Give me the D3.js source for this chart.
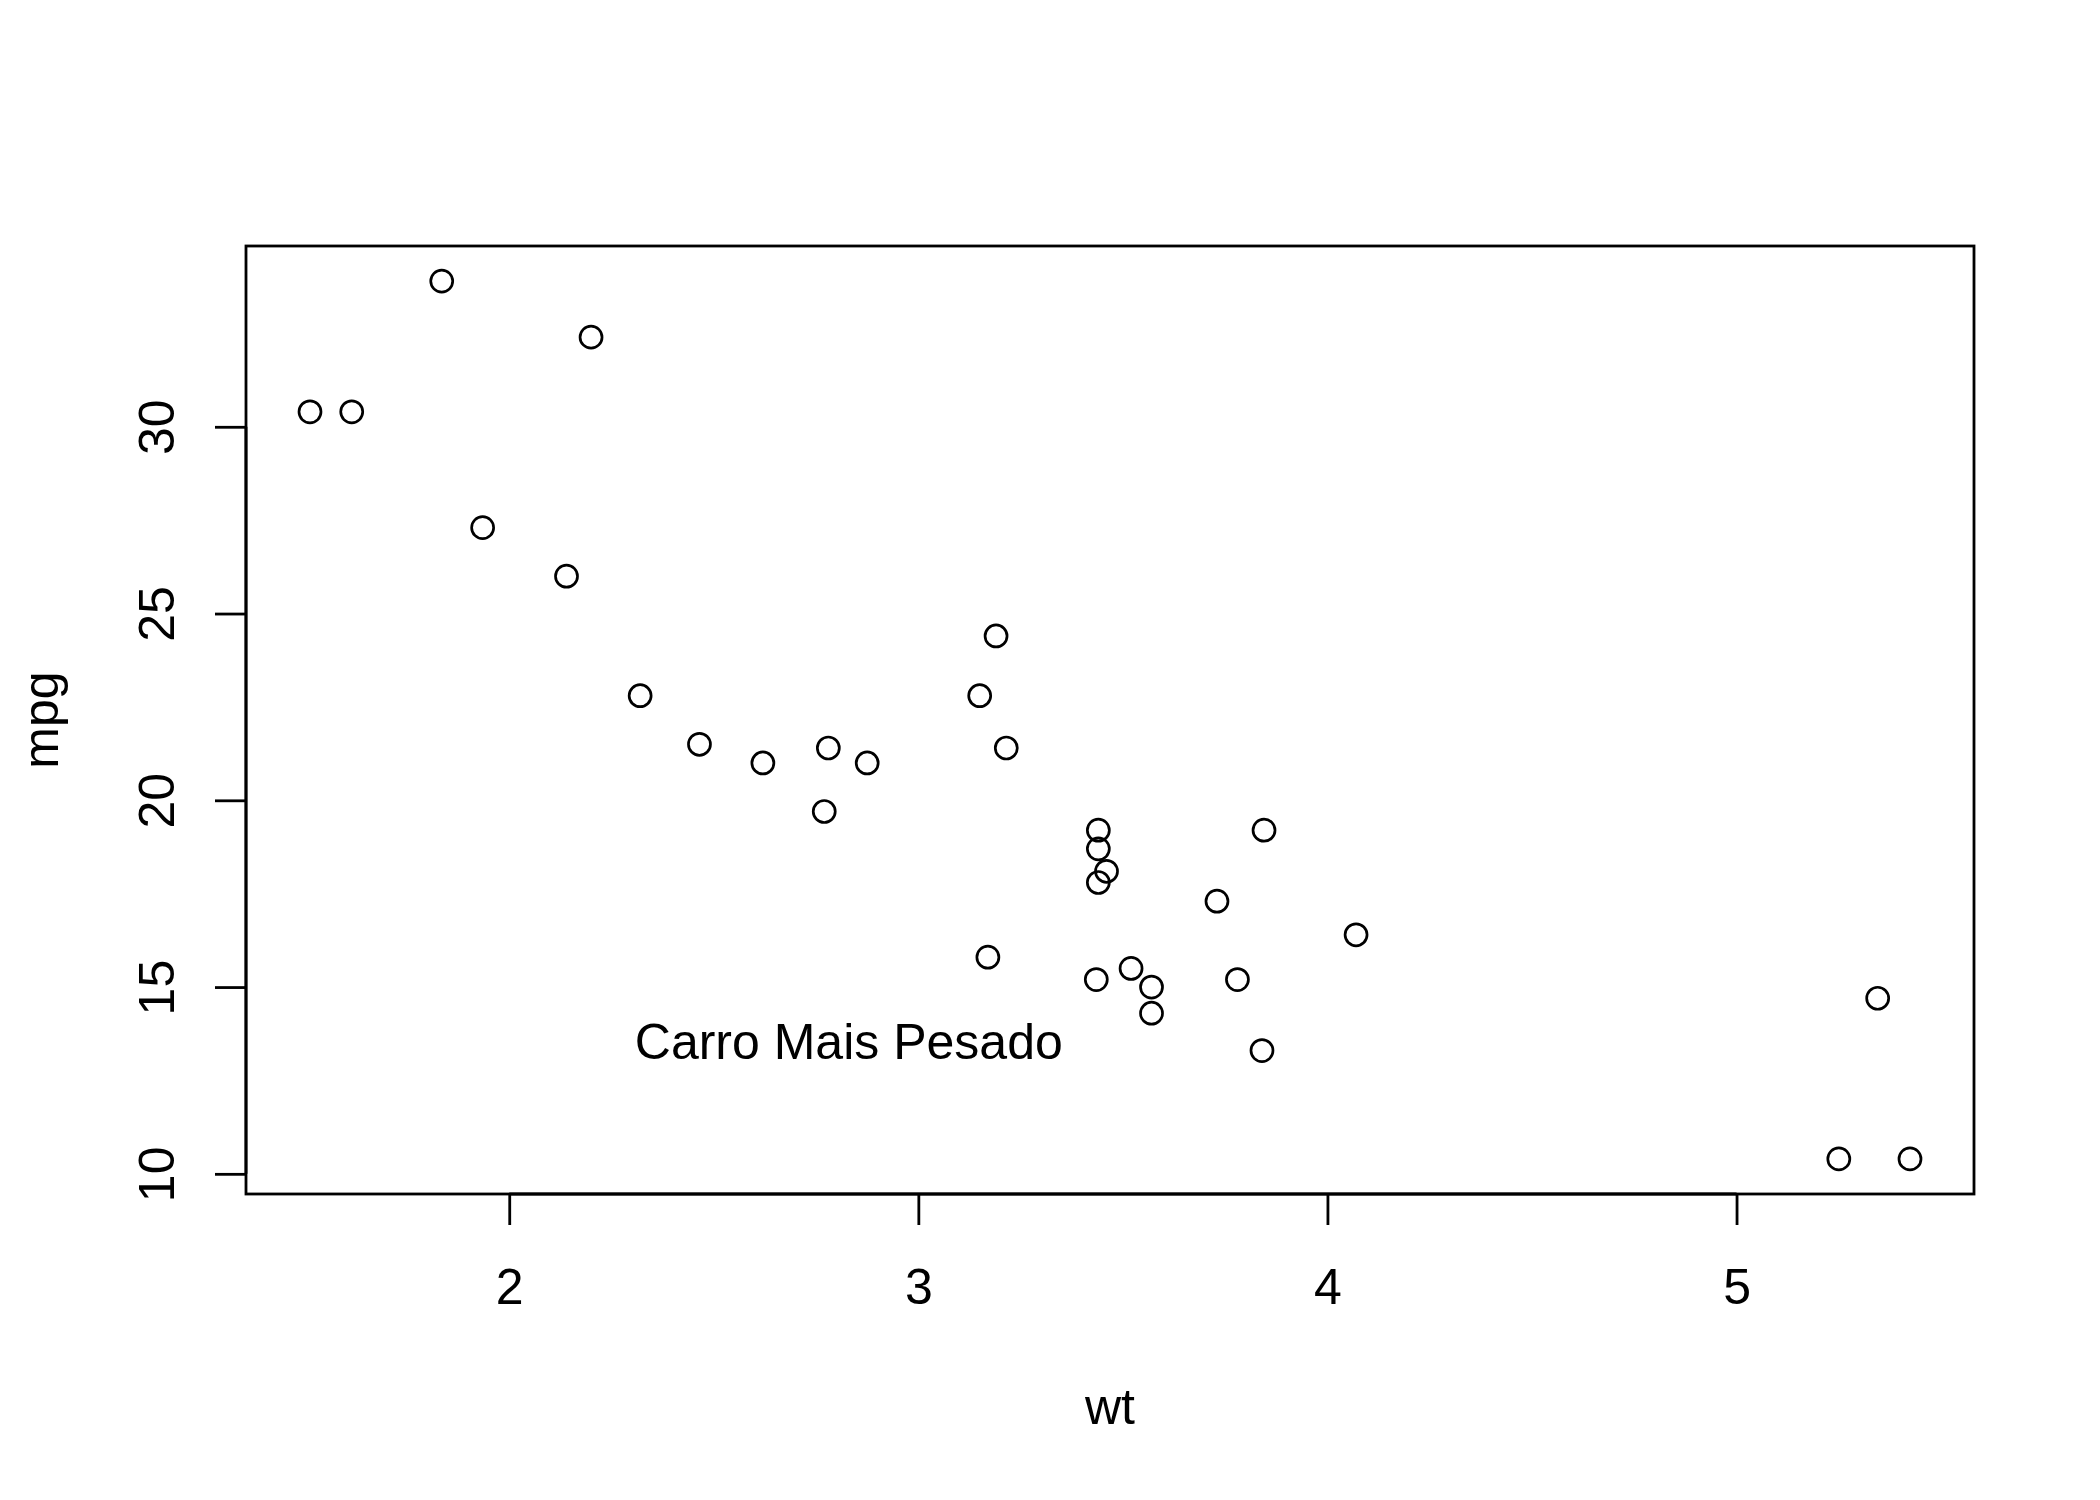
<!DOCTYPE html>
<html>
<head>
<meta charset="utf-8">
<script src="https://cdn.jsdelivr.net/npm/d3@7"></script>
<style>
  body { margin: 0; background: #fff; }
  text { font-family: "Liberation Sans", Arial, sans-serif; fill: #000; }
</style>
</head>
<body>
<div id="viz"></div>
<script>
// mtcars: wt (1000 lbs) vs mpg
var wt = [2.620, 2.875, 2.320, 3.215, 3.440, 3.460, 3.570, 3.190, 3.150, 3.440, 3.440,
          4.070, 3.730, 3.780, 5.250, 5.424, 5.345, 2.200, 1.615, 1.835, 2.465, 3.520,
          3.435, 3.840, 3.845, 1.935, 2.140, 1.513, 3.170, 2.770, 3.570, 2.780];
var mpg = [21.0, 21.0, 22.8, 21.4, 18.7, 18.1, 14.3, 24.4, 22.8, 19.2, 17.8,
           16.4, 17.3, 15.2, 10.4, 10.4, 14.7, 32.4, 30.4, 33.9, 21.5, 15.5,
           15.2, 13.3, 19.2, 27.3, 26.0, 30.4, 15.8, 19.7, 15.0, 21.4];
var xTicks = [2, 3, 4, 5];
var yTicks = [10, 15, 20, 25, 30];
var note = { x: 2.83, y: 13.5, label: "Carro Mais Pesado" };

var width = 2100, height = 1500;
var box = { left: 246, right: 1974, top: 246, bottom: 1194 };
var fs = 50;

var svg = d3.select("#viz").append("svg").attr("width", width).attr("height", height);

// R style 4% range extension
function ext(v) {
  var e = d3.extent(v), d = (e[1] - e[0]) * 0.04;
  return [e[0] - d, e[1] + d];
}

var x = d3.scaleLinear().domain(ext(wt)).range([box.left, box.right]);
var y = d3.scaleLinear().domain(ext(mpg)).range([box.bottom, box.top]);

var xAxis = svg.append("g")
    .attr("transform", "translate(0," + box.bottom + ")")
    .call(d3.axisBottom(x).tickValues(xTicks).tickSize(31).tickPadding(43).tickFormat(d3.format("d")));

var yAxis = svg.append("g")
    .attr("transform", "translate(" + box.left + ",0)")
    .call(d3.axisLeft(y).tickValues(yTicks).tickSize(31).tickFormat(d3.format("d")));

[xAxis, yAxis].forEach(function(g) {
  g.select(".domain").remove();
  g.selectAll("line").attr("stroke", "#000").attr("stroke-width", 2.8);
  g.selectAll("text").style("font-family", "Liberation Sans, Arial, sans-serif").attr("font-size", fs).attr("fill", "#000");
});

// axis segments from first to last tick, like R
xAxis.append("line").attr("x1", x(xTicks[0])).attr("x2", x(xTicks[xTicks.length - 1]))
    .attr("stroke", "#000").attr("stroke-width", 2.8);
yAxis.append("line").attr("y1", y(yTicks[0])).attr("y2", y(yTicks[yTicks.length - 1]))
    .attr("stroke", "#000").attr("stroke-width", 2.8);

// rotated y tick labels
yAxis.selectAll(".tick text")
    .attr("x", null).attr("dy", null)
    .attr("text-anchor", "middle")
    .attr("transform", "translate(-89,0) rotate(-90)")
    .attr("y", 0)
    .attr("dominant-baseline", "central");

svg.append("rect")
    .attr("x", box.left).attr("y", box.top)
    .attr("width", box.right - box.left).attr("height", box.bottom - box.top)
    .attr("fill", "none").attr("stroke", "#000").attr("stroke-width", 2.8);

svg.selectAll("circle.pt")
    .data(wt.map(function(w, i) { return [w, mpg[i]]; }))
  .enter().append("circle")
    .attr("class", "pt")
    .attr("cx", function(d) { return x(d[0]); })
    .attr("cy", function(d) { return y(d[1]); })
    .attr("r", 11)
    .attr("fill", "none")
    .attr("stroke", "#000")
    .attr("stroke-width", 2.7);

svg.append("text")
    .attr("x", x(note.x))
    .attr("y", y(note.y) + 16)
    .attr("text-anchor", "middle")
    .attr("font-size", fs)
    .text(note.label);

svg.append("text")
    .attr("x", (box.left + box.right) / 2)
    .attr("y", 1424)
    .attr("text-anchor", "middle")
    .attr("font-size", fs)
    .text("wt");

svg.append("text")
    .attr("transform", "translate(58," + (box.top + box.bottom) / 2 + ") rotate(-90)")
    .attr("text-anchor", "middle")
    .attr("font-size", fs)
    .text("mpg");
</script>
</body>
</html>
